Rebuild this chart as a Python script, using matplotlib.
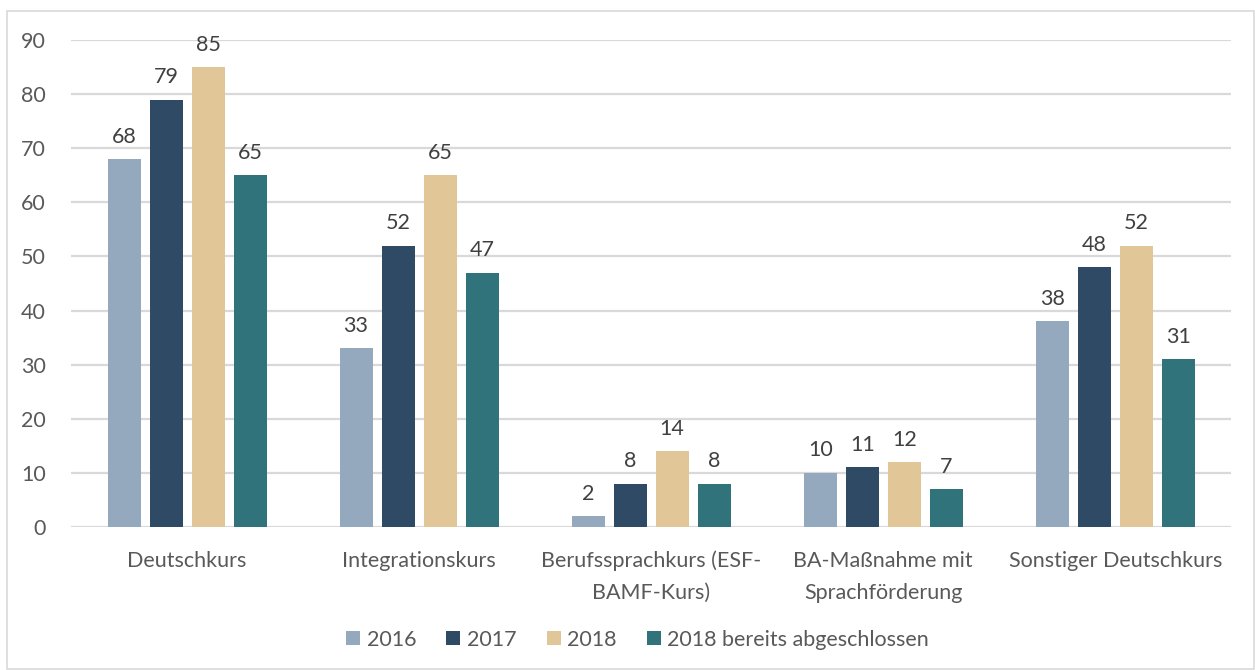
import numpy as np
import matplotlib.pyplot as plt
from matplotlib.patches import Rectangle

categories = ["Deutschkurs", "Integrationskurs", "Berufssprachkurs (ESF-\nBAMF-Kurs)",
              "BA-Maßnahme mit\nSprachförderung", "Sonstiger Deutschkurs"]
series_names = ["2016", "2017", "2018", "2018 bereits abgeschlossen"]
v2016 = [68, 33, 2, 10, 38]
v2017 = [79, 52, 8, 11, 48]
v2018 = [85, 65, 14, 12, 52]
v2018_done = [65, 47, 8, 7, 31]
colors = ["#94a9bd", "#2e4a65", "#e1c697", "#30737a"]

plt.rcParams['font.family'] = ['Lato', 'DejaVu Sans']
text_col = "#595959"
fs = 15.5

fig = plt.figure(figsize=(12.55, 6.7), dpi=100)
ax = fig.add_axes([0.0566, 0.2134, 0.9245, 0.7269])

x = np.arange(len(categories))
pitch = 0.181
width = 0.142
all_vals = [v2016, v2017, v2018, v2018_done]
for i, (vals, name, c) in enumerate(zip(all_vals, series_names, colors)):
    pos = x + (i - 1.5) * pitch
    bars = ax.bar(pos, vals, width=width, color=c, label=name, zorder=3)
    for b, v in zip(bars, vals):
        ax.annotate(str(v), (b.get_x() + b.get_width() / 2, v), xytext=(0, 9),
                    textcoords="offset points", ha="center", va="bottom",
                    fontsize=fs, color="#404040")

ax.set_xlim(-0.5, len(categories) - 0.5)
ax.set_ylim(0, 90)
ax.set_yticks(range(0, 91, 10))
ax.yaxis.grid(True, color="#d9d9d9", linewidth=1.6, zorder=0)
ax.set_axisbelow(True)
for s in ax.spines.values():
    s.set_visible(False)
ax.tick_params(axis="both", length=0, labelsize=fs, labelcolor=text_col)
ax.tick_params(axis="y", pad=18)
ax.set_xticks(x)
ax.set_xticklabels(categories, linespacing=1.75)
ax.tick_params(axis="x", pad=17)

leg = fig.legend(loc="center", bbox_to_anchor=(0.508, 0.045), ncol=4, frameon=False,
                 fontsize=fs, handlelength=0.65, handleheight=0.65, handletextpad=0.3,
                 columnspacing=1.4)
for t in leg.get_texts():
    t.set_color(text_col)

fig.patches.append(Rectangle((7 / 1255, 1 / 670), 1247 / 1255, 658 / 670,
                             transform=fig.transFigure, fill=False,
                             edgecolor="#d9d9d9", linewidth=1.2))

fig.savefig("out.png", dpi=100)
